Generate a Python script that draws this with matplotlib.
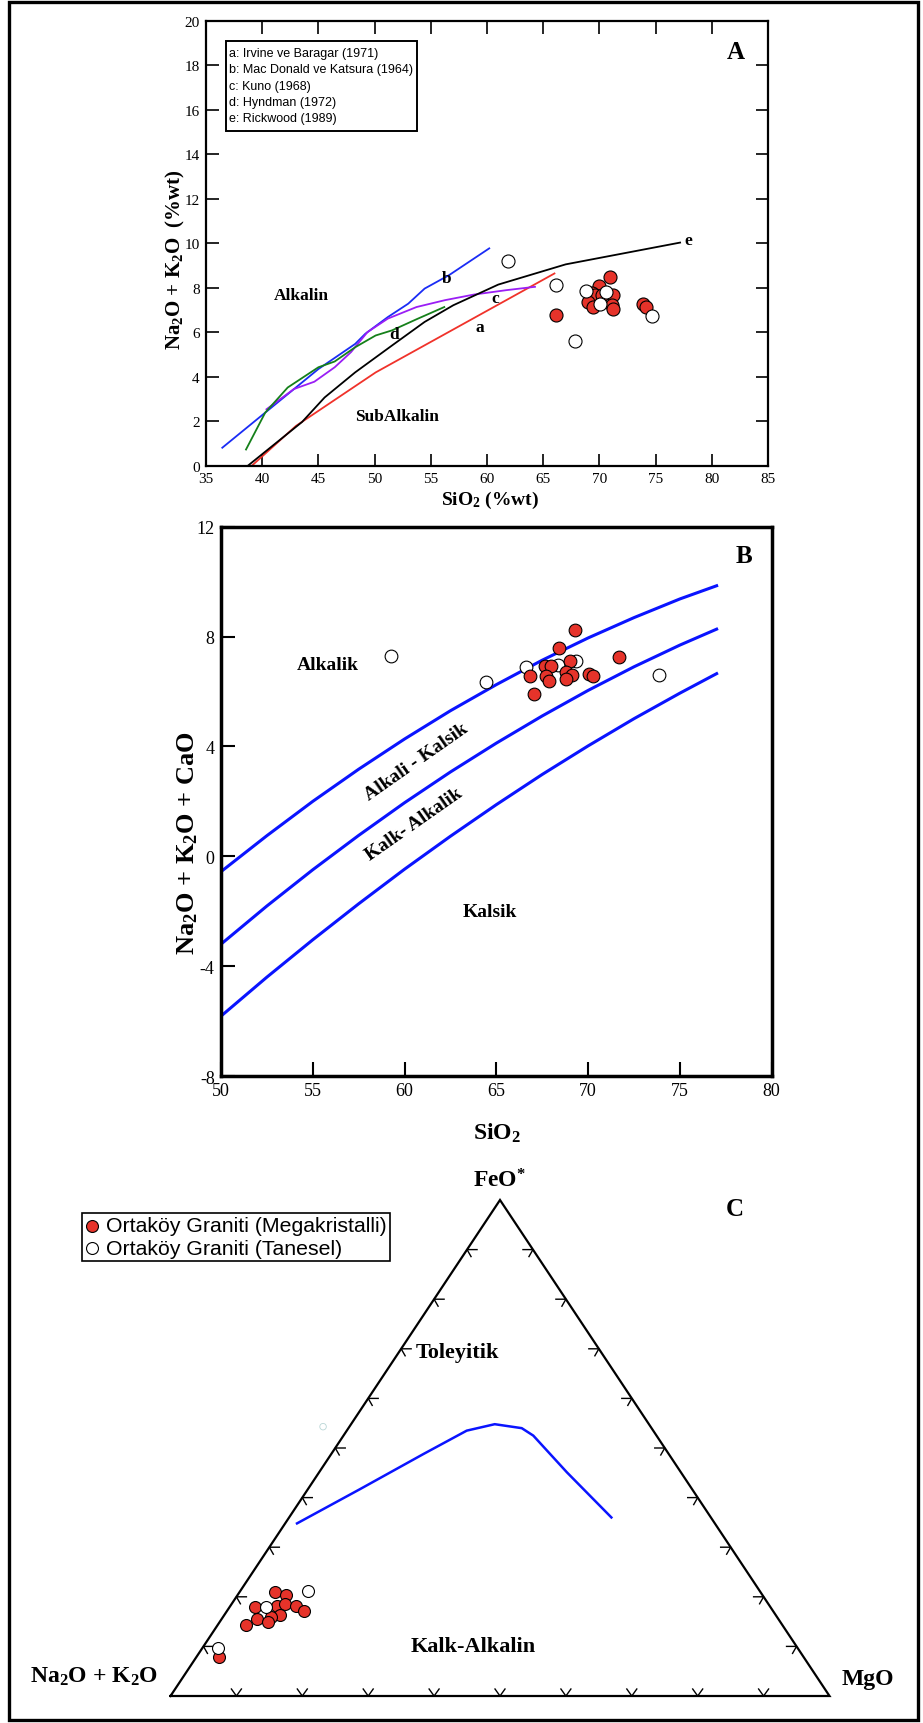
import matplotlib
matplotlib.use('Agg')
import matplotlib.pyplot as plt
from matplotlib.patches import Rectangle

W, H = 923, 1724
RED = '#e6332a'
SERIF = ['Liberation Serif', 'DejaVu Serif']
NARROW = ['Liberation Sans Narrow', 'Liberation Sans', 'DejaVu Sans']

plt.rcParams['font.family'] = SERIF
plt.rcParams['axes.unicode_minus'] = False
plt.rcParams['mathtext.fontset'] = 'custom'
plt.rcParams['mathtext.rm'] = 'Liberation Serif:bold'
plt.rcParams['mathtext.bf'] = 'Liberation Serif:bold'
plt.rcParams['mathtext.it'] = 'Liberation Serif:bold:italic'

# ---------------- panel A : TAS-type boundaries (SiO2 vs Na2O+K2O)
a_x = [39.1, 43.0, 50.1, 66.0]
a_y = [0.0, 1.78, 4.19, 8.64]
b_x = [36.45, 40.27, 45.0, 48.27, 49.18, 51.18, 52.99, 54.45, 56.64, 60.2]
b_y = [0.8, 2.38, 4.34, 5.47, 5.93, 6.68, 7.28, 7.96, 8.57, 9.77]
c_x = [40.38, 42.82, 44.64, 46.45, 47.9, 49.36, 51.18, 53.73, 56.27, 58.82, 61.73, 64.27]
c_y = [2.53, 3.44, 3.77, 4.42, 5.1, 6.0, 6.61, 7.13, 7.44, 7.69, 7.89, 8.04]
d_x = [38.56, 40.27, 42.27, 45.0, 46.45, 48.27, 50.09, 51.55, 53.73, 56.2]
d_y = [0.72, 2.38, 3.51, 4.42, 4.68, 5.32, 5.85, 6.08, 6.58, 7.13]
e_x = [38.75, 43.55, 45.55, 48.27, 51.55, 54.45, 57.0, 61.0, 67.0, 77.18]
e_y = [0.0, 1.96, 3.06, 4.19, 5.4, 6.46, 7.21, 8.14, 9.05, 10.03]

legend_a = ['a: Irvine ve Baragar (1971)', 'b: Mac Donald ve Katsura (1964)',
            'c: Kuno (1968)', 'd: Hyndman (1972)', 'e: Rickwood (1989)']

megA_sio2 = [66.14, 70.94, 69.96, 69.31, 69.6, 69.0, 69.46, 71.18, 71.09, 71.18, 73.9, 74.15, 70.2]
megA_alk = [6.75, 8.48, 8.07, 7.77, 7.65, 7.35, 7.12, 7.65, 7.23, 7.05, 7.27, 7.13, 7.65]
tanA_sio2 = [61.9, 66.11, 68.78, 67.83, 70.56, 70.05, 74.65]
tanA_alk = [9.22, 8.13, 7.87, 5.58, 7.80, 7.27, 6.72]

# ---------------- panel B : MALI (SiO2 vs Na2O+K2O-CaO)
mali_x = [50, 52.5, 55, 57.5, 60, 62.5, 65, 67.5, 70, 72.5, 75, 77]
mali_alk = [-0.56, 0.75, 2.0, 3.17, 4.27, 5.3, 6.25, 7.14, 7.95, 8.69, 9.37, 9.85]
mali_akc = [-3.2, -1.81, -0.49, 0.76, 1.95, 3.07, 4.12, 5.11, 6.04, 6.9, 7.69, 8.27]
mali_ca = [-5.82, -4.4, -3.04, -1.73, -0.47, 0.73, 1.88, 2.98, 4.02, 5.01, 5.94, 6.65]

megB_sio2 = [69.29, 68.43, 69.03, 67.63, 67.96, 66.84, 67.68, 67.89, 68.77, 69.1, 68.82, 70.06, 70.26, 71.68, 67.05]
megB_val = [8.24, 7.59, 7.12, 6.93, 6.93, 6.55, 6.58, 6.38, 6.71, 6.61, 6.45, 6.64, 6.55, 7.25, 5.9]
tanB_sio2 = [59.25, 64.41, 66.62, 68.34, 69.35, 73.87]
tanB_val = [7.29, 6.35, 6.90, 6.97, 7.12, 6.61]

# ---------------- panel C : AFM ternary (fractions of FeO* and MgO)
tick_frac = [0.1, 0.2, 0.3, 0.4, 0.5, 0.6, 0.7, 0.8, 0.9]
afm_fe = [0.348, 0.417, 0.488, 0.535, 0.548, 0.540, 0.525, 0.451, 0.360]
afm_mg = [0.018, 0.079, 0.140, 0.182, 0.218, 0.263, 0.288, 0.376, 0.489]

megC_fe = [0.209, 0.204, 0.179, 0.182, 0.186, 0.181, 0.171, 0.163, 0.159, 0.155, 0.149, 0.143, 0.078]
megC_mg = [0.054, 0.074, 0.039, 0.070, 0.081, 0.100, 0.117, 0.085, 0.073, 0.054, 0.074, 0.043, 0.035]
tanC_fe = [0.212, 0.179, 0.096]
tanC_mg = [0.103, 0.056, 0.024]
stray_fe = [0.543]
stray_mg = [-0.04]


def box(l, t, r, b):
    return [l / W, 1 - b / H, (r - l) / W, (b - t) / H]


def fpos(x, y):
    return x / W, 1 - y / H


def tern(fe, mg):
    return [m + f / 2 for f, m in zip(fe, mg)], list(fe)


fig = plt.figure(figsize=(W / 100, H / 100), dpi=100)
fig.patches.append(Rectangle(fpos(9, 1721), 909 / W, 1718.5 / H, transform=fig.transFigure,
                             fill=False, lw=2.4, edgecolor='black'))

# ================= A
ax = fig.add_axes(box(206, 22, 768, 466.5))
ax.set_xlim(35, 85)
ax.set_ylim(0, 20)
ax.set_xticks(range(35, 86, 5))
ax.set_yticks(range(0, 21, 2))
ax.tick_params(direction='in', length=9, width=1.2, top=True, right=True,
               labelsize=11, pad=4.5)
for s in ax.spines.values():
    s.set_linewidth(1.6)
lw = 1.3
ax.plot(a_x, a_y, color='#f0322a', lw=lw)
ax.plot(b_x, b_y, color='#1a2cf5', lw=lw)
ax.plot(c_x, c_y, color='#9a1ef5', lw=lw)
ax.plot(d_x, d_y, color='#15801a', lw=lw)
ax.plot(e_x, e_y, color='black', lw=lw)
for lab, (lx, ly) in zip('abcde', [(59.36, 6.23), (56.45, 8.45), (60.71, 7.54),
                                   (51.73, 5.93), (77.9, 10.15)]):
    ax.text(lx, ly, lab, fontsize=12.5, fontweight='bold', ha='center', va='center')
ax.text(43.47, 7.69, 'Alkalin', fontsize=12.5, fontweight='bold', ha='center', va='center')
ax.text(51.98, 2.23, 'SubAlkalin', fontsize=12.5, fontweight='bold', ha='center', va='center')
ax.text(82.16, 18.63, 'A', fontsize=18, fontweight='bold', ha='center', va='center')
ax.add_patch(Rectangle((36.78, 15.07), 16.99, 4.05, fill=False, lw=1.4, edgecolor='black'))
for i, t in enumerate(legend_a):
    ax.text(37.05, 18.55 - i * 0.73, t, family=NARROW, fontsize=9, va='center')
ax.scatter(megA_sio2, megA_alk, s=88, c=RED, edgecolors='black', linewidths=0.8, zorder=3)
ax.scatter(tanA_sio2, tanA_alk, s=88, c='white', edgecolors='black', linewidths=0.8, zorder=4)
fig.text(*fpos(175, 260), r'Na$_2$O + K$_2$O  (%wt)', rotation=90, ha='center', va='center',
         fontsize=15, fontweight='bold')
fig.text(*fpos(490, 500), r'SiO$_2$ (%wt)', ha='center', va='center', fontsize=14,
         fontweight='bold')

# ================= B
bx = fig.add_axes(box(221, 527.7, 771.7, 1077))
bx.set_xlim(50, 80)
bx.set_ylim(-8, 12)
bx.set_xticks(range(50, 81, 5))
bx.set_yticks(range(-8, 13, 4))
bx.tick_params(direction='in', length=10, width=1.5, labelsize=13, pad=4.5)
for s in bx.spines.values():
    s.set_linewidth(2.5)
for yy in (mali_alk, mali_akc, mali_ca):
    bx.plot(mali_x, yy, color='#0a14ff', lw=2.2)
bx.scatter(megB_sio2, megB_val, s=84, c=RED, edgecolors='black', linewidths=0.8, zorder=3)
bx.scatter(tanB_sio2, tanB_val, s=84, c='white', edgecolors='black', linewidths=0.8, zorder=2)
bx.text(55.8, 6.97, 'Alkalik', fontsize=14, fontweight='bold', ha='center', va='center')
bx.text(60.65, 3.45, 'Alkali - Kalsik', fontsize=14, fontweight='bold', ha='center',
        va='center', rotation=35)
bx.text(60.54, 1.17, 'Kalk- Alkalik', fontsize=14, fontweight='bold', ha='center',
        va='center', rotation=35)
bx.text(64.67, -2.02, 'Kalsik', fontsize=14, fontweight='bold', ha='center', va='center')
bx.text(78.5, 10.94, 'B', fontsize=18, fontweight='bold', ha='center', va='center')
fig.text(*fpos(188, 843), r'Na$_2$O + K$_2$O + CaO', rotation=90, ha='center', va='center',
         fontsize=19, fontweight='bold')
fig.text(*fpos(497, 1133), r'SiO$_2$', ha='center', va='center', fontsize=17,
         fontweight='bold')

# ================= C
cx = fig.add_axes(box(170.5, 1201, 829.5, 1697))
cx.set_xlim(0, 1)
cx.set_ylim(0, 1)
cx.axis('off')
cx.plot([0, 1, 0.5, 0], [0, 0, 1, 0], color='black', lw=1.6, clip_on=False,
        solid_joinstyle='miter')
ux, uy = 1 / 659, 1 / 496   # one pixel in data units
tk = dict(color='black', lw=1.0, clip_on=False)
for t in tick_frac:
    # left side (MgO = 0)
    x0, y0 = t / 2, t
    cx.plot([x0 + 10 * ux, x0, x0 + 4 * ux], [y0, y0, y0 - 7 * uy], **tk)
    # right side
    x0 = 1 - t / 2
    cx.plot([x0 - 10 * ux, x0, x0 - 4 * ux], [y0, y0, y0 - 7 * uy], **tk)
    # base
    cx.plot([t - 5 * ux, t, t + 5 * ux], [7 * uy, 0, 7 * uy], **tk)
px_, py_ = tern(afm_fe, afm_mg)
cx.plot(px_, py_, color='#0a14ff', lw=1.8)
sx, sy = tern(stray_fe, stray_mg)
cx.scatter(sx, sy, s=22, facecolors='none', edgecolors='#b9d6d6', linewidths=0.6, clip_on=False)
mx, my = tern(megC_fe, megC_mg)
cx.scatter(mx, my, s=74, c=RED, edgecolors='black', linewidths=0.8, zorder=3,
           label='Ortaköy Graniti (Megakristalli)')
tx, ty = tern(tanC_fe, tanC_mg)
cx.scatter(tx, ty, s=74, c='white', edgecolors='black', linewidths=0.8, zorder=4,
           label='Ortaköy Graniti (Tanesel)')
leg = cx.legend(loc='upper left', bbox_to_anchor=fpos(81.7, 1214.3), bbox_transform=fig.transFigure,
                prop={'family': NARROW, 'size': 15.3}, frameon=True, fancybox=False,
                framealpha=1, edgecolor='black', borderpad=0.15, labelspacing=0.15,
                handlelength=0.7, handletextpad=0.3, borderaxespad=0, markerscale=1.0)
leg.get_frame().set_linewidth(1.2)
fig.text(*fpos(500, 1188), r'FeO$^{*}$', ha='center', va='baseline', fontsize=17,
         fontweight='bold')
fig.text(*fpos(735, 1210), 'C', ha='center', va='center', fontsize=18, fontweight='bold')
fig.text(*fpos(457, 1353), 'Toleyitik', ha='center', va='center', fontsize=16, fontweight='bold')
fig.text(*fpos(473, 1647), 'Kalk-Alkalin', ha='center', va='center', fontsize=16,
         fontweight='bold')
fig.text(*fpos(94, 1677), r'Na$_2$O + K$_2$O', ha='center', va='center', fontsize=17,
         fontweight='bold')
fig.text(*fpos(868, 1680), 'MgO', ha='center', va='center', fontsize=17, fontweight='bold')

fig.savefig('out.png', dpi=100)
